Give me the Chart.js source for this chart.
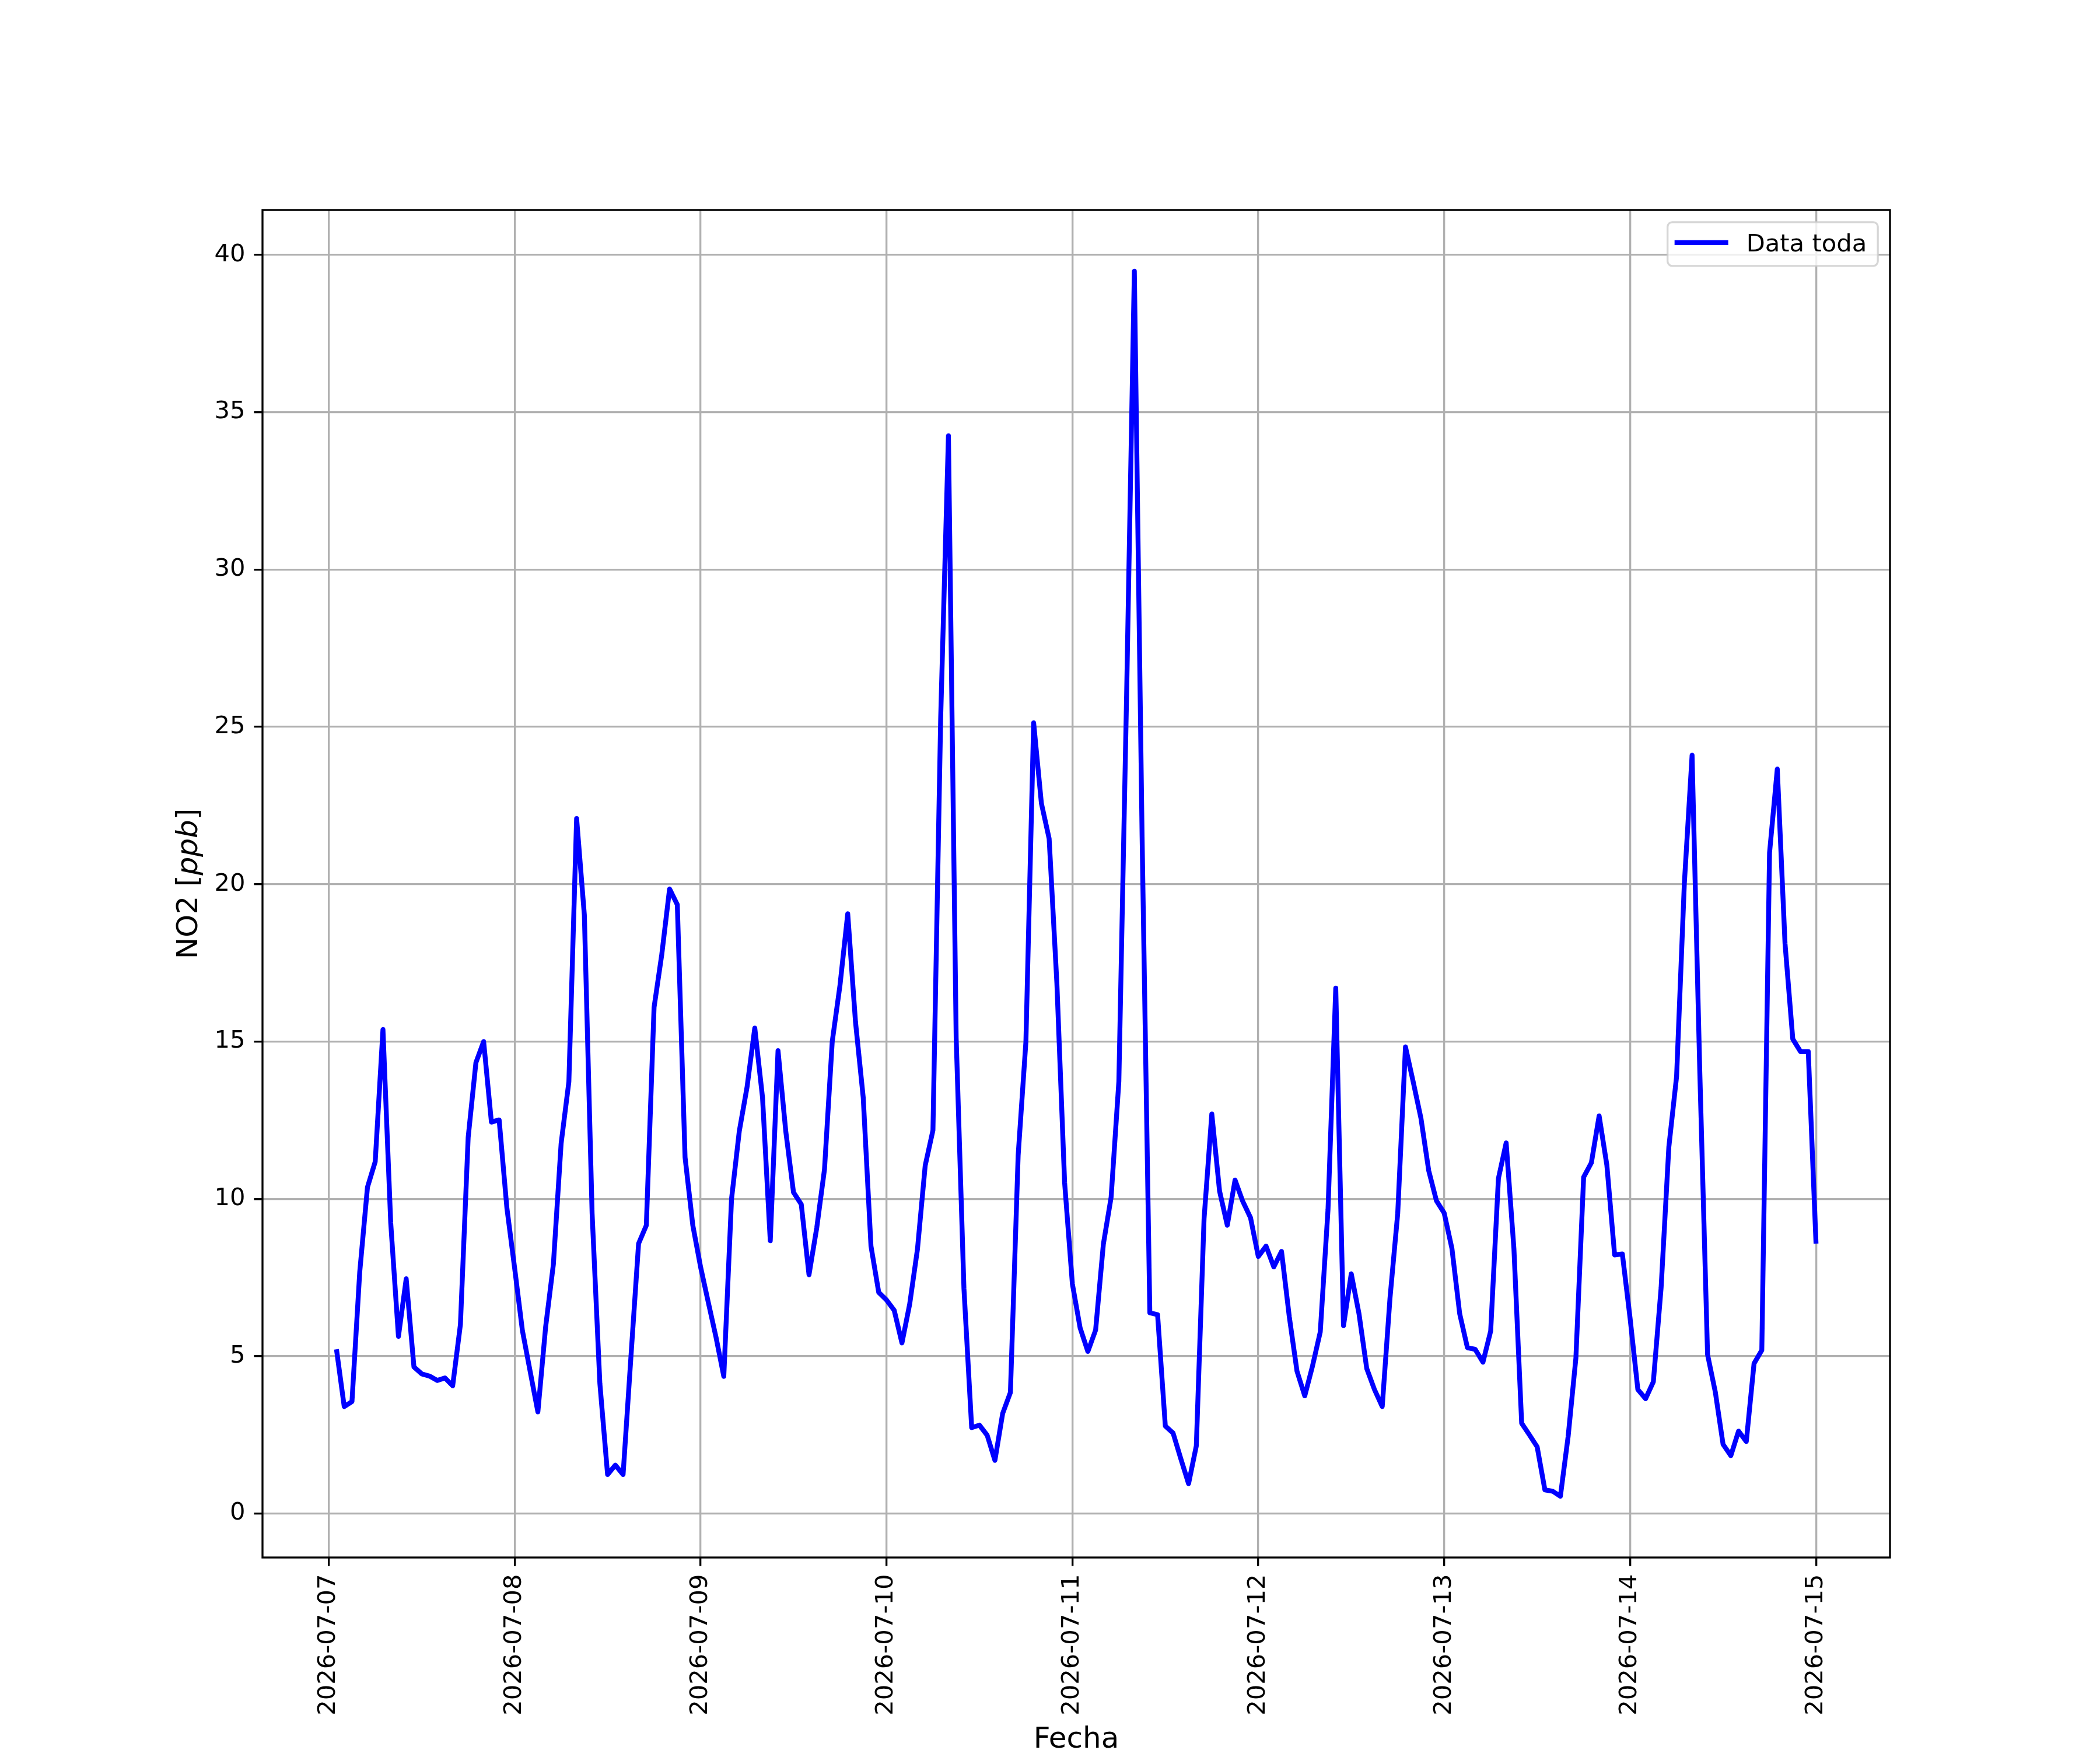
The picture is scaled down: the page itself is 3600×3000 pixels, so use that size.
<!DOCTYPE html>
<html>
<head>
<meta charset="utf-8">
<title>NO2 horario</title>
<script src="https://cdn.jsdelivr.net/npm/chart.js@4.4.1/dist/chart.umd.min.js"></script>
<style>
  body { margin: 0; background: #ffffff; }
  canvas { display: block; }
</style>
</head>
<body>
<canvas id="graficoNO2" width="3600" height="3000"></canvas>
<script>
// NO2 horario [ppb], una lista por dia. El 07-07 empieza a las 01:00.
const no2_0707 = [5.22, 3.40, 3.56, 7.67, 10.37, 11.18, 15.38, 9.25, 5.63, 7.46, 4.66, 4.44,
                  4.37, 4.23, 4.31, 4.06, 6.01, 11.95, 14.33, 15.00, 12.44, 12.51, 9.71];
const no2_0708 = [7.80, 5.82, 4.52, 3.23, 5.93, 7.92, 11.76, 13.72, 22.09, 19.02, 9.54, 4.14,
                  1.24, 1.54, 1.24, 4.94, 8.58, 9.16, 16.09, 17.78, 19.85, 19.35, 11.32, 9.16];
const no2_0709 = [7.84, 6.71, 5.60, 4.36, 10.00, 12.15, 13.55, 15.43, 13.22, 8.67, 14.71, 12.15,
                  10.21, 9.83, 7.59, 9.08, 10.94, 15.00, 16.79, 19.06, 15.63, 13.22, 8.50, 7.03];
const no2_0710 = [6.79, 6.46, 5.42, 6.66, 8.40, 11.06, 12.18, 25.30, 34.25, 15.11, 7.16, 2.73,
                  2.81, 2.49, 1.69, 3.18, 3.85, 11.38, 14.99, 25.13, 22.57, 21.45, 16.85, 10.51];
const no2_0711 = [7.30, 5.90, 5.15, 5.83, 8.56, 10.05, 13.73, 26.00, 39.48, 21.50, 6.38, 6.32,
                  2.78, 2.56, 1.74, 0.95, 2.15, 9.37, 12.70, 10.25, 9.16, 10.60, 9.92, 9.40];
const no2_0712 = [8.17, 8.50, 7.84, 8.33, 6.26, 4.52, 3.74, 4.69, 5.77, 9.66, 16.70, 5.97,
                  7.62, 6.35, 4.61, 3.94, 3.40, 6.84, 9.54, 14.83, 13.72, 12.56, 10.90, 9.94];
const no2_0713 = [9.55, 8.42, 6.35, 5.27, 5.22, 4.81, 5.80, 10.65, 11.78, 8.42, 2.87, 2.50,
                  2.12, 0.75, 0.71, 0.55, 2.45, 4.94, 10.69, 11.15, 12.64, 11.07, 8.22, 8.25];
const no2_0714 = [6.20, 3.94, 3.65, 4.19, 7.17, 11.65, 13.89, 20.02, 24.10, 14.00, 5.05, 3.86,
                  2.20, 1.84, 2.62, 2.29, 4.77, 5.19, 21.00, 23.66, 18.11, 15.08, 14.68, 14.68];
const no2_0715 = [8.58];

const etiquetasDias = ['2026-07-07', '2026-07-08', '2026-07-09', '2026-07-10', '2026-07-11',
                       '2026-07-12', '2026-07-13', '2026-07-14', '2026-07-15'];
const ticksY = [0, 5, 10, 15, 20, 25, 30, 35, 40];
const horaInicial = 1;          // 2026-07-07 01:00, horas desde 2026-07-07 00:00
const etiquetaSerie = 'Data toda';
const tituloX = 'Fecha';

const no2 = [].concat(no2_0707, no2_0708, no2_0709, no2_0710, no2_0711,
                      no2_0712, no2_0713, no2_0714, no2_0715);
const puntos = no2.map((v, i) => ({ x: horaInicial + i, y: v }));

Chart.defaults.font.family = '"DejaVu Sans", sans-serif';
Chart.defaults.color = '#000000';

const PT = 300 / 72;   // px por punto (figura a 300 dpi)

// marco de ejes, leyenda y titulos de ejes
const extras = {
    id: 'extras',
    afterDraw(chart) {
        const ctx = chart.ctx;
        const a = chart.chartArea;
        ctx.save();

        ctx.strokeStyle = '#000000';
        ctx.lineWidth = 0.8 * PT;
        ctx.strokeRect(a.left, a.top, a.right - a.left, a.bottom - a.top);

        // leyenda
        const texto = chart.data.datasets[0].label;
        ctx.font = (10 * PT) + 'px "DejaVu Sans"';
        const anchoTexto = ctx.measureText(texto).width;
        const w = 135 + anchoTexto + 19;
        const h = 75;
        const x0 = a.right - 0.5 * 10 * PT - w;
        const y0 = a.top + 0.5 * 10 * PT;
        const r = 8;
        ctx.beginPath();
        ctx.moveTo(x0 + r, y0);
        ctx.arcTo(x0 + w, y0, x0 + w, y0 + h, r);
        ctx.arcTo(x0 + w, y0 + h, x0, y0 + h, r);
        ctx.arcTo(x0, y0 + h, x0, y0, r);
        ctx.arcTo(x0, y0, x0 + w, y0, r);
        ctx.closePath();
        ctx.fillStyle = 'rgba(255,255,255,0.8)';
        ctx.fill();
        ctx.strokeStyle = 'rgba(204,204,204,0.8)';
        ctx.lineWidth = 0.8 * PT;
        ctx.stroke();

        ctx.beginPath();
        ctx.moveTo(x0 + 12, y0 + 35);
        ctx.lineTo(x0 + 104, y0 + 35);
        ctx.strokeStyle = '#0000ff';
        ctx.lineWidth = 2 * PT;
        ctx.lineCap = 'butt';
        ctx.stroke();

        ctx.fillStyle = '#000000';
        ctx.textAlign = 'left';
        ctx.textBaseline = 'alphabetic';
        ctx.fillText(texto, x0 + 135, y0 + 50);

        // titulo eje x
        ctx.font = (12 * PT) + 'px "DejaVu Sans"';
        ctx.textAlign = 'center';
        ctx.fillText(tituloX, (a.left + a.right) / 2, 2996);

        // titulo eje y: NO2 [ppb] con ppb en cursiva
        const normal = (12 * PT) + 'px "DejaVu Sans"';
        const cursiva = 'italic ' + (12 * PT) + 'px "DejaVu Sans"';
        const partes = [['NO2 [', normal], ['ppb', cursiva], [']', normal]];
        let total = 0;
        partes.forEach(([t, f]) => { ctx.font = f; total += ctx.measureText(t).width; });
        ctx.translate(338, (a.top + a.bottom) / 2);
        ctx.rotate(-Math.PI / 2);
        ctx.textAlign = 'left';
        let xx = -total / 2;
        partes.forEach(([t, f]) => {
            ctx.font = f;
            ctx.fillText(t, xx, 0);
            xx += ctx.measureText(t).width;
        });

        ctx.restore();
    }
};

const rejilla = {
    color: '#b0b0b0',
    lineWidth: 0.8 * PT,
    tickColor: '#000000',
    tickWidth: 0.8 * PT,
    tickLength: 3.5 * PT
};

const config = {
    type: 'line',
    data: {
        datasets: [{
            label: etiquetaSerie,
            data: puntos,
            borderColor: '#0000ff',
            borderWidth: 2 * PT,
            borderJoinStyle: 'round',
            pointRadius: 0,
            fill: false,
            tension: 0
        }]
    },
    options: {
        responsive: false,
        animation: false,
        devicePixelRatio: 1,
        layout: { padding: { left: 0, top: 360, right: 360, bottom: 0 } },
        plugins: {
            legend: { display: false },
            tooltip: { enabled: false }
        },
        scales: {
            x: {
                type: 'linear',
                min: -8.55,
                max: 201.55,
                afterBuildTicks: (eje) => {
                    eje.ticks = etiquetasDias.map((_, i) => ({ value: i * 24 }));
                },
                afterFit: (eje) => { eje.height = 330; },
                ticks: {
                    autoSkip: false,
                    minRotation: 90,
                    maxRotation: 90,
                    padding: 14,
                    color: '#000000',
                    font: { size: 10 * PT },
                    callback: (v) => etiquetasDias[Math.round(v / 24)]
                },
                grid: rejilla,
                border: { display: false }
            },
            y: {
                min: -1.3965,
                max: 41.4265,
                afterBuildTicks: (eje) => {
                    eje.ticks = ticksY.map((v) => ({ value: v }));
                },
                afterFit: (eje) => { eje.width = 450; },
                ticks: {
                    padding: 15,
                    color: '#000000',
                    font: { size: 10 * PT }
                },
                grid: rejilla,
                border: { display: false }
            }
        }
    },
    plugins: [extras]
};

const lienzo = document.getElementById('graficoNO2');
const graficoNO2 = new Chart(lienzo, config);
</script>
</body>
</html>
